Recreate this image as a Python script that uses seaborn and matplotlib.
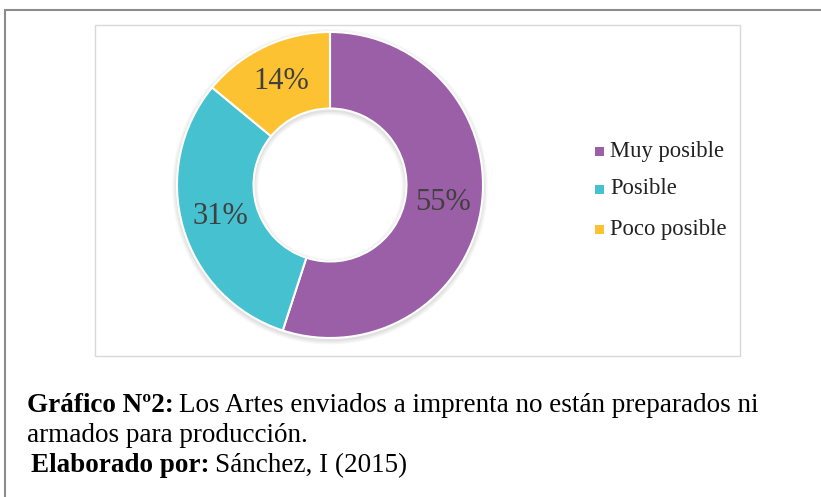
import matplotlib
matplotlib.use("Agg")
import matplotlib.pyplot as plt
import seaborn as sns
from matplotlib.patches import Rectangle, Wedge
from matplotlib.lines import Line2D

categories = ["Muy posible", "Posible", "Poco posible"]
values = [55, 31, 14]
colors = ["#9B5FA8", "#45C1CF", "#FCC232"]

sns.set_theme(style="white")
plt.rcParams['font.family'] = ['Liberation Serif', 'DejaVu Serif']

W, H = 821, 497
fig = plt.figure(figsize=(W / 100, H / 100), dpi=100)
fig.patch.set_facecolor("white")

def fx(px):
    return px / W

def fy(py):
    return 1 - py / H

# outer frame (top and left)
fig.add_artist(Line2D([fx(5), fx(821)], [fy(10), fy(10)], color="#8c8c8c", lw=1.5))
fig.add_artist(Line2D([fx(5), fx(5)], [fy(10), fy(497)], color="#8c8c8c", lw=1.5))

# inner chart box
fig.add_artist(Rectangle((fx(95), fy(356)), fx(740) - fx(95), fy(25) - fy(356),
                         fill=False, edgecolor="#d9d9d9", lw=1.0))

# donut axes
cx, cy, r = 330, 185, 153
ax = fig.add_axes([0, 0, 1, 1])
# soft shadow
for k, a in [(0.03, 0.07), (0.02, 0.09), (0.01, 0.11)]:
    ax.add_patch(Wedge((0, -0.012), 1 + k, 0, 360, width=0.5 + 2 * k,
                       facecolor="#888888", edgecolor="none", alpha=a, zorder=0))
wedges, texts, autotexts = ax.pie(
    values, colors=colors, startangle=90, counterclock=False,
    radius=1.0, autopct=lambda p: f"{p:.0f}%", pctdistance=0.745,
    wedgeprops=dict(width=0.5, edgecolor="white", linewidth=1.5),
    textprops=dict(fontsize=22, color="#404040"))
for w in wedges:
    w.set_zorder(2)
for t in autotexts:
    t.set_zorder(3)
ax.set_xlim(-1.05, 1.05)
ax.set_ylim(-1.05, 1.05)
ax.set_aspect("auto")
ax.axis("off")
pad = r * 0.05
ax.set_position([fx(cx - r - pad), fy(cy + r + pad), fx(2 * (r + pad)), (2 * (r + pad)) / H])

# legend
leg_rows = [151, 189, 229]
for cat, col, ry in zip(categories, colors, leg_rows):
    fig.add_artist(Rectangle((fx(595), fy(ry + 5)), fx(9), 9 / H,
                             facecolor=col, edgecolor="none"))
    fig.text(fx(610), fy(ry), cat, fontsize=16.3, color="#222222", va="center", ha="left")

# caption: bold lead-in followed by regular text
fig.canvas.draw()
renderer = fig.canvas.get_renderer()
CAP = 19.5

def two_part(x_px, y_px, bold, normal, size=CAP):
    t1 = fig.text(fx(x_px), fy(y_px), bold, fontsize=size, fontweight="bold",
                  va="center", ha="left", color="black")
    bb = t1.get_window_extent(renderer=renderer)
    fig.text(bb.x1 / W + fx(5), fy(y_px), normal, fontsize=size,
             va="center", ha="left", color="black")

two_part(27, 406, "Gráfico Nº2:", "Los Artes enviados a imprenta no están preparados ni")
fig.text(fx(27), fy(436), "armados para producción.", fontsize=CAP, va="center", ha="left", color="black")
two_part(31, 466, "Elaborado por:", "Sánchez, I (2015)")

fig.savefig("out.png", dpi=100, facecolor="white")
